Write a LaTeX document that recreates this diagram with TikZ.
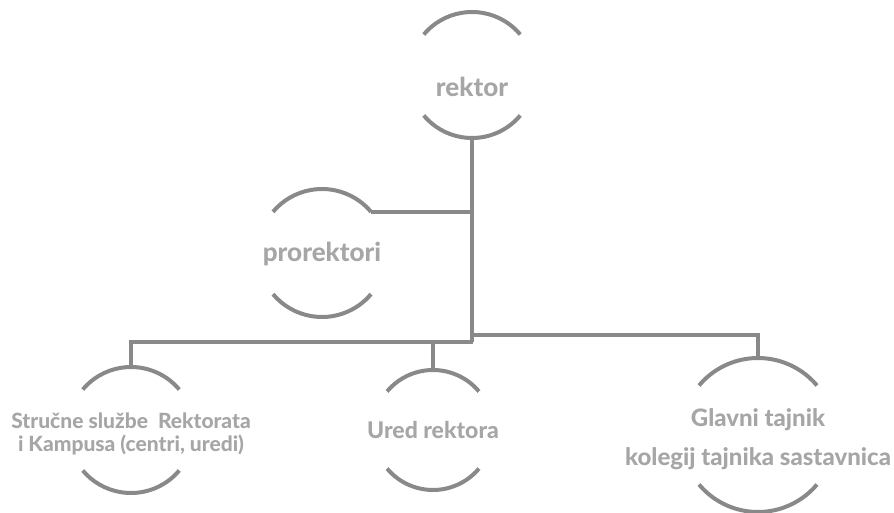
\documentclass[tikz,border=0pt]{standalone}
\usepackage{fontspec}
\setmainfont{Lato}[BoldFont={Lato Heavy}]
\definecolor{linegray}{RGB}{137,137,137}
\definecolor{textgray}{RGB}{166,166,166}
% two arcs round a text node: name, radius, lift of the circle centre
\newcommand{\halo}[3]{
  \coordinate (#1-c) at ([yshift=#3]#1.center);
  \draw[haloarc] ([shift={(40:#2)}]#1-c) arc[start angle=40, end angle=140, radius=#2];
  \draw[haloarc] ([shift={(-40:#2)}]#1-c) arc[start angle=-40, end angle=-140, radius=#2];
  \coordinate (#1-top) at ([yshift=#2]#1-c);
  \coordinate (#1-bot) at ([yshift=-#2]#1-c);
  \coordinate (#1-ne) at ([shift={(40:#2)}]#1-c);
}
\begin{document}
\begin{tikzpicture}[x=1pt, y=1pt,
    haloarc/.style={draw=linegray, line width=4pt},
    link/.style={draw=linegray, line width=4pt},
    title/.style={text=textgray, font=\bfseries\fontsize{26}{30}\selectfont, align=center},
    subtitle/.style={text=textgray, font=\bfseries\fontsize{21}{23}\selectfont, align=center},
    tajnik/.style={text=textgray, font=\bfseries\fontsize{24}{29}\selectfont, align=center}]
    \useasboundingbox (0, 0) rectangle (894, 512);
    \node[title] (rektor) at (472, 425) {rektor};
    \node[title] (prorektori) at (322, 258) {prorektori};
    \node[subtitle] (strucne) at (131, 78) {Stručne službe\ \ Rektorata\\ i Kampusa (centri, uredi)};
    \node[title, font=\bfseries\fontsize{23}{28}\selectfont] (ured) at (433, 82) {Ured rektora};
    \node[tajnik] (glavni) at (758, 73) {Glavni tajnik\\[10pt] kolegij tajnika sastavnica};
    \halo{rektor}{63}{12}
    \halo{prorektori}{64}{1}
    \halo{strucne}{63}{4}
    \halo{ured}{60}{0}
    \halo{glavni}{77}{4}
    \coordinate (trunk) at (473, 170);
    \draw[link] (rektor-bot) -- (rektor-bot |- trunk);
    \draw[link] (prorektori-ne) -- (prorektori-ne -| trunk);
    \draw[link] (strucne-top) |- (trunk);
    \draw[link] (ured-top) -- (ured-top |- trunk);
    \draw[link] ([yshift=7]trunk) -| (glavni-top);
\end{tikzpicture}
\end{document}
